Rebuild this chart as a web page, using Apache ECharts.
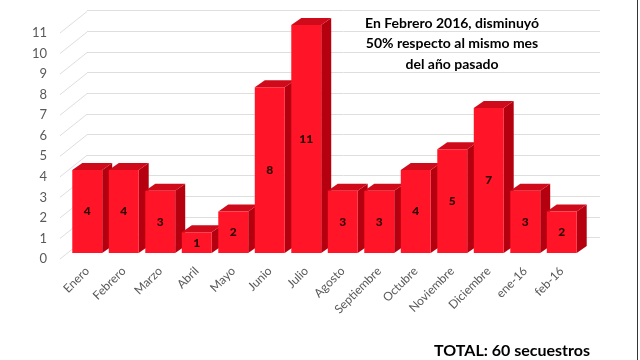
<!DOCTYPE html>
<html><head><meta charset="utf-8">
<script src="https://cdn.jsdelivr.net/npm/echarts@6/dist/echarts.min.js"></script>
<style>html,body{margin:0;padding:0;background:#fff}#c{width:640px;height:360px}</style>
</head><body><div id="c"></div>
<script>
const categories = ['Enero','Febrero','Marzo','Abril','Mayo','Junio','Julio','Agosto','Septiembre','Octubre','Noviembre','Diciembre','ene-16','feb-16'];
const values = [4,4,3,1,2,8,11,3,3,4,5,7,3,2];
const yTicks = [0,1,2,3,4,5,6,7,8,9,10,11];
const noteLines = ['En Febrero 2016, disminuyó','50% respecto al mismo mes','del año pasado'];
const totalText = 'TOTAL: 60 secuestros';

const FONT = 'Lato, "Open Sans", sans-serif';
const DX = 10, DY = -7;      // bar depth
const FDX = 27, FDY = -21.5; // floor depth

const chart = echarts.init(document.getElementById('c'), null, {renderer:'canvas'});
chart.setOption({
  animation:false,
  backgroundColor:'#fff',
  grid:[
    {left:69, width:511, top:25, bottom:107},
    {left:87, right:40, top:10.7, bottom:122.5},
    {left:60, width:27, top:33, bottom:101}
  ],
  xAxis:[
    {type:'category', gridIndex:0, data:categories,
     axisLine:{show:false}, axisTick:{show:false},
     axisLabel:{rotate:45, interval:0, margin:16, color:'#595959', fontSize:12, fontFamily:FONT}},
    {type:'value', gridIndex:1, min:0, max:1, show:false},
    {type:'value', gridIndex:2, min:0, max:1, show:false}
  ],
  yAxis:[
    {type:'value', gridIndex:0, min:0, max:11, interval:1, show:false},
    {type:'value', gridIndex:1, min:0, max:11, interval:1,
     axisLine:{show:false}, axisTick:{show:false}, axisLabel:{show:false},
     splitLine:{show:true, lineStyle:{color:'#dedede', width:1}}},
    {type:'value', gridIndex:2, min:0, max:11, interval:1,
     axisLine:{show:false}, axisTick:{show:false}, splitLine:{show:false},
     axisLabel:{margin:13, color:'#595959', fontSize:13, fontFamily:FONT}}
  ],
  series:[
    {type:'custom', xAxisIndex:2, yAxisIndex:2, silent:true,
     data: yTicks.map(v=>[0,v]),
     renderItem:function(params, api){
       const p = api.coord([0, api.value(1)]);
       return {type:'line', shape:{x1:p[0], y1:p[1], x2:p[0]+FDX, y2:p[1]+FDY},
               style:{stroke:'#dedede', lineWidth:1}};
     }},
    {type:'custom', xAxisIndex:0, yAxisIndex:0,
     data: values.map((v,i)=>[i,v]),
     renderItem:function(params, api){
       const top = api.coord([api.value(0), api.value(1)]);
       const base = api.coord([api.value(0), 0]);
       const bw = api.size([1,0])[0]*0.82;
       const x0 = top[0]-bw/2, x1 = top[0]+bw/2;
       const yt = top[1], yb = base[1];
       return {type:'group', children:[
         {type:'polygon', shape:{points:[[x1,yt],[x1+DX,yt+DY],[x1+DX,yb+DY],[x1,yb]]},
          style:{fill:'#b5000f'}},
         {type:'polygon', shape:{points:[[x0,yt],[x0+DX,yt+DY],[x1+DX,yt+DY],[x1,yt]]},
          style:{fill:'#cf0a1a'}},
         {type:'rect', shape:{x:x0, y:yt, width:bw, height:yb-yt},
          style:{fill:'#ff1428'}},
         {type:'text', x:(x0+x1)/2, y:(yt+yb)/2,
          style:{text:String(api.value(1)), fill:'#2a0000', font:'900 12px '+FONT,
                 align:'center', verticalAlign:'middle'}}
       ]};
     }}
  ],
  graphic:[
    {type:'text', x:452, y:13, style:{text:noteLines.join('\n'), align:'center',
      font:'bold 14px '+FONT, fill:'#000', lineHeight:20.5}},
    {type:'text', x:590, y:343, style:{text:totalText, align:'right', font:'bold 16px '+FONT, fill:'#000'}},
    {type:'rect', shape:{x:637, y:0, width:1, height:360}, style:{fill:'#333'}}
  ]
});
</script></body></html>
